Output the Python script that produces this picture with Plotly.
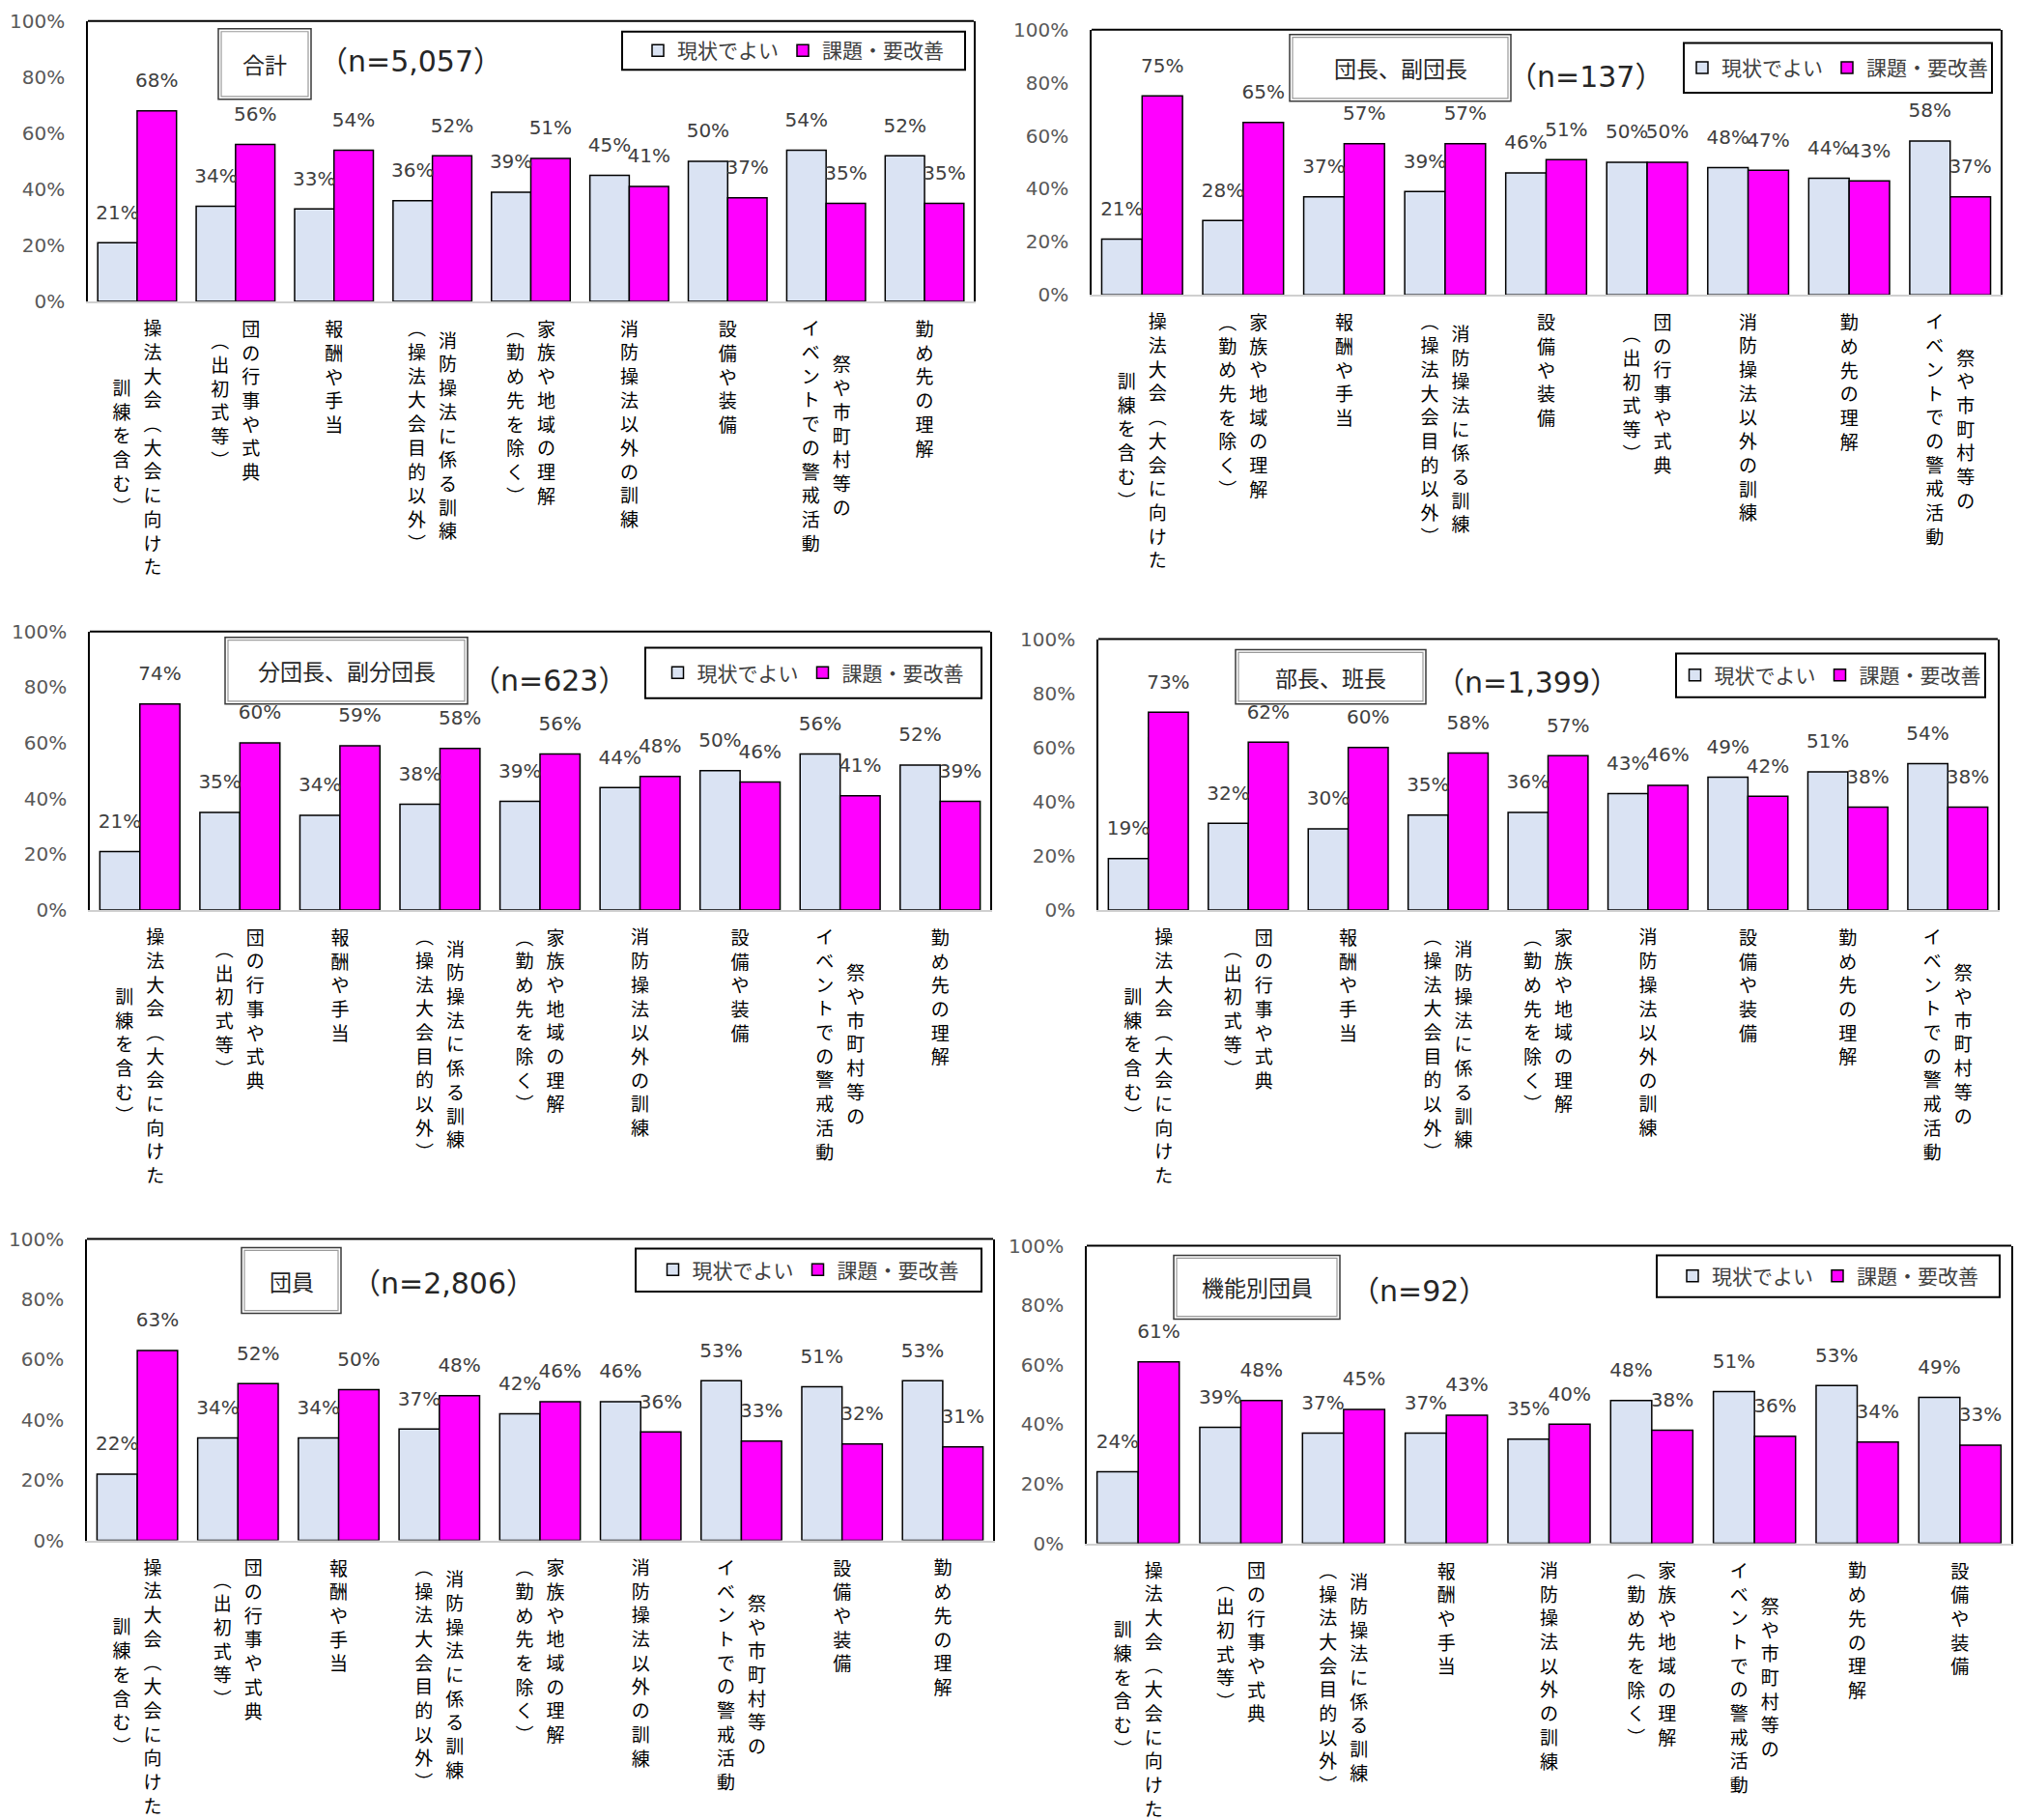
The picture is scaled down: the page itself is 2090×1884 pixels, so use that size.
import plotly.graph_objects as go

W, H = 2090, 1884

# ---------------- category labels ("|" separates vertical columns, right to left)
C_SOHO = "操法大会（大会に向けた|訓練を含む）"
C_GYOJI = "団の行事や式典|（出初式等）"
C_HOSHU = "報酬や手当"
C_KUNREN = "消防操法に係る訓練|（操法大会目的以外）"
C_KAZOKU = "家族や地域の理解|（勤め先を除く）"
C_IGAI = "消防操法以外の訓練"
C_SETSUBI = "設備や装備"
C_MATSURI = "祭や市町村等の|イベントでの警戒活動"
C_TSUTOME = "勤め先の理解"

SERIES = ["現状でよい", "課題・要改善"]

titles = ["合計", "団長、副団長", "分団長、副分団長", "部長、班長", "団員", "機能別団員"]
n_labels = ["（n=5,057）", "（n=137）", "（n=623）", "（n=1,399）", "（n=2,806）", "（n=92）"]

tick_vals = [0, 20, 40, 60, 80, 100]
tick_text = ["0%", "20%", "40%", "60%", "80%", "100%"]

# ---------------- data (percent)
cats_total = [C_SOHO, C_GYOJI, C_HOSHU, C_KUNREN, C_KAZOKU, C_IGAI, C_SETSUBI, C_MATSURI, C_TSUTOME]
good_total = [21, 34, 33, 36, 39, 45, 50, 54, 52]
issue_total = [68, 56, 54, 52, 51, 41, 37, 35, 35]

cats_dancho = [C_SOHO, C_KAZOKU, C_HOSHU, C_KUNREN, C_SETSUBI, C_GYOJI, C_IGAI, C_TSUTOME, C_MATSURI]
good_dancho = [21, 28, 37, 39, 46, 50, 48, 44, 58]
issue_dancho = [75, 65, 57, 57, 51, 50, 47, 43, 37]

cats_bundan = [C_SOHO, C_GYOJI, C_HOSHU, C_KUNREN, C_KAZOKU, C_IGAI, C_SETSUBI, C_MATSURI, C_TSUTOME]
good_bundan = [21, 35, 34, 38, 39, 44, 50, 56, 52]
issue_bundan = [74, 60, 59, 58, 56, 48, 46, 41, 39]

cats_bucho = [C_SOHO, C_GYOJI, C_HOSHU, C_KUNREN, C_KAZOKU, C_IGAI, C_SETSUBI, C_TSUTOME, C_MATSURI]
good_bucho = [19, 32, 30, 35, 36, 43, 49, 51, 54]
issue_bucho = [73, 62, 60, 58, 57, 46, 42, 38, 38]

cats_danin = [C_SOHO, C_GYOJI, C_HOSHU, C_KUNREN, C_KAZOKU, C_IGAI, C_MATSURI, C_SETSUBI, C_TSUTOME]
good_danin = [22, 34, 34, 37, 42, 46, 53, 51, 53]
issue_danin = [63, 52, 50, 48, 46, 36, 33, 32, 31]

cats_kino = [C_SOHO, C_GYOJI, C_KUNREN, C_HOSHU, C_IGAI, C_KAZOKU, C_MATSURI, C_TSUTOME, C_SETSUBI]
good_kino = [24, 39, 37, 37, 35, 48, 51, 53, 49]
issue_kino = [61, 48, 45, 43, 40, 38, 36, 34, 33]

panels = [
    (cats_total, good_total, issue_total),
    (cats_dancho, good_dancho, issue_dancho),
    (cats_bundan, good_bundan, issue_bundan),
    (cats_bucho, good_bucho, issue_bucho),
    (cats_danin, good_danin, issue_danin),
    (cats_kino, good_kino, issue_kino),
]

# ---------------- layout geometry (pixels)
PLOT_BOX = [  # left, top, right, bottom
    (91, 10, 1008, 304),
    (1130, 19, 2071, 297),
    (93, 650, 1025, 942),
    (1137, 658, 2068, 942),
    (90, 1287, 1028, 1603),
    (1125, 1294, 2082, 1606),
]
TITLE_BOX = [
    (226, 18, 322, 92),
    (1335, 24, 1564, 94),
    (233, 656, 484, 726),
    (1279, 669, 1476, 726),
    (250, 1296, 353, 1365),
    (1215, 1304, 1387, 1371),
]
N_POS = [(328, 52), (1559, 68), (486, 701), (1484, 703), (362, 1333), (1396, 1342)]
LEG_BOX = [
    (644, 21, 999, 61),
    (1743, 33, 2062, 85),
    (668, 667, 1016, 720),
    (1735, 673, 2055, 719),
    (658, 1297, 1016, 1342),
    (1715, 1304, 2070, 1348),
]

LIGHT = "#dae3f3"
MAGENTA = "#ff00ff"
BARGAP = 0.2
LABEL_OFFSET_PX = 30
CAT_FONT_SIZE = 19
CHAR_PITCH = 1.3 * CAT_FONT_SIZE   # plotly line spacing
COL_GAP = 32
TOP_GAP = 20
LABEL_AREA = 300
VERT = {"（": "︵", "）": "︶"}
NUM_FONT = "DejaVu Sans, Noto Sans CJK JP"
JP_FONT = "Noto Sans CJK JP"


def px(x):
    return x / W


def py(y):
    return 1 - y / H


fig = go.Figure()
shapes = []
annotations = []
layout_extra = {}
NP = len(panels)

for k, (cats, good, issue) in enumerate(panels):
    s = "" if k == 0 else str(k + 1)
    sl = str(k + 1 + NP)  # axes for the vertical category labels
    L, T, R, B = PLOT_BOX[k]
    xpp = 9.0 / (R - L)
    ypp = 100.0 / (B - T)
    idx = list(range(len(cats)))
    half = (1 - BARGAP) / 4
    leg = "legend" + s

    fig.add_bar(x=idx, y=good, name=SERIES[0], xaxis="x" + s, yaxis="y" + s, legend=leg,
                marker=dict(color=LIGHT, line=dict(color="black", width=1.5)), hoverinfo="skip")
    fig.add_bar(x=idx, y=issue, name=SERIES[1], xaxis="x" + s, yaxis="y" + s, legend=leg,
                marker=dict(color=MAGENTA, line=dict(color="black", width=1.5)), hoverinfo="skip")

    # data labels
    for vals, sign in ((good, -1), (issue, 1)):
        fig.add_scatter(
            x=[i + sign * half for i in idx],
            y=[v + LABEL_OFFSET_PX * ypp for v in vals],
            text=[f"{v}%" for v in vals], mode="text", textposition="middle center",
            textfont=dict(family=NUM_FONT, size=20, color="#404040"),
            cliponaxis=False, showlegend=False, hoverinfo="skip",
            xaxis="x" + s, yaxis="y" + s)

    # vertical category labels (own invisible axes, y in pixels below the plot)
    area_bottom = min(B + LABEL_AREA, H)
    xs, ys, ts = [], [], []
    for i, lab in enumerate(cats):
        cols = lab.split("|")
        n = len(cols)
        maxlen = max(len(c) for c in cols)
        for c, col in enumerate(cols):
            xoff = ((n - 1) / 2 - c) * COL_GAP
            yoff = (maxlen - len(col)) / 2 * CHAR_PITCH
            xs.append(i + xoff * xpp)
            ys.append(-(TOP_GAP + yoff + len(col) * CHAR_PITCH / 2))
            ts.append("<br>".join(VERT.get(ch, ch) for ch in col))
    fig.add_scatter(x=xs, y=ys, text=ts, mode="text", textposition="middle center",
                    textfont=dict(family=JP_FONT, size=CAT_FONT_SIZE, color="#000000"),
                    cliponaxis=False, showlegend=False, hoverinfo="skip",
                    xaxis="x" + sl, yaxis="y" + sl)
    layout_extra["xaxis" + sl] = dict(domain=[px(L), px(R)], anchor="y" + sl,
                                      range=[-0.5, len(cats) - 0.5], visible=False, fixedrange=True)
    layout_extra["yaxis" + sl] = dict(domain=[py(area_bottom), py(B)], anchor="x" + sl,
                                      range=[-(area_bottom - B), 0], visible=False, fixedrange=True)

    layout_extra["xaxis" + s] = dict(
        domain=[px(L), px(R)], anchor="y" + s, range=[-0.5, len(cats) - 0.5],
        showticklabels=False, ticks="", showgrid=False, zeroline=False,
        showline=True, linecolor="#d0d0d0", linewidth=2, fixedrange=True)
    layout_extra["yaxis" + s] = dict(
        domain=[py(B), py(T)], anchor="x" + s, range=[0, 100],
        tickmode="array", tickvals=tick_vals, ticktext=tick_text, ticks="",
        ticklabelstandoff=18,
        tickfont=dict(family=NUM_FONT, size=20, color="#595959"),
        showgrid=False, zeroline=False, showline=True, linecolor="black",
        linewidth=1.5, mirror=True, fixedrange=True)

    # top frame line
    shapes.append(dict(type="line", xref="paper", yref="paper", x0=px(L), x1=px(R),
                       y0=py(T), y1=py(T), line=dict(color="black", width=2)))

    # title box (double border)
    tl, tt, tr, tb = TITLE_BOX[k]
    shapes.append(dict(type="rect", xref="paper", yref="paper", x0=px(tl), x1=px(tr),
                       y0=py(tb), y1=py(tt), line=dict(color="#3a3a3a", width=1.5),
                       fillcolor="white", layer="above"))
    shapes.append(dict(type="rect", xref="paper", yref="paper", x0=px(tl + 3), x1=px(tr - 3),
                       y0=py(tb - 3), y1=py(tt + 3), line=dict(color="#9a9a9a", width=1.2),
                       layer="above"))
    annotations.append(dict(xref="paper", yref="paper", x=px((tl + tr) / 2), y=py((tt + tb) / 2),
                            xanchor="center", yanchor="middle", text=titles[k], showarrow=False,
                            font=dict(family=JP_FONT, size=23, color="#262626")))
    # n label
    nx, ny = N_POS[k]
    annotations.append(dict(xref="paper", yref="paper", x=px(nx), y=py(ny),
                            xanchor="left", yanchor="middle", text=n_labels[k], showarrow=False,
                            font=dict(family=NUM_FONT, size=30, color="#262626")))
    # legend box + legend
    ll, lt, lr, lb = LEG_BOX[k]
    shapes.append(dict(type="rect", xref="paper", yref="paper", x0=px(ll), x1=px(lr),
                       y0=py(lb), y1=py(lt), line=dict(color="black", width=2),
                       fillcolor="white", layer="above"))
    layout_extra[leg] = dict(
        x=px((ll + lr) / 2), y=py((lt + lb) / 2), xanchor="center", yanchor="middle",
        orientation="h", bgcolor="rgba(0,0,0,0)", borderwidth=0,
        font=dict(family=JP_FONT, size=21, color="#404040"),
        itemclick=False, itemdoubleclick=False, traceorder="normal")

fig.update_layout(
    width=W, height=H, autosize=False,
    margin=dict(l=0, r=0, t=0, b=0),
    paper_bgcolor="white", plot_bgcolor="white",
    barmode="group", bargap=BARGAP, bargroupgap=0,
    shapes=shapes, annotations=annotations,
    **layout_extra,
)

fig.write_html("out.html")
